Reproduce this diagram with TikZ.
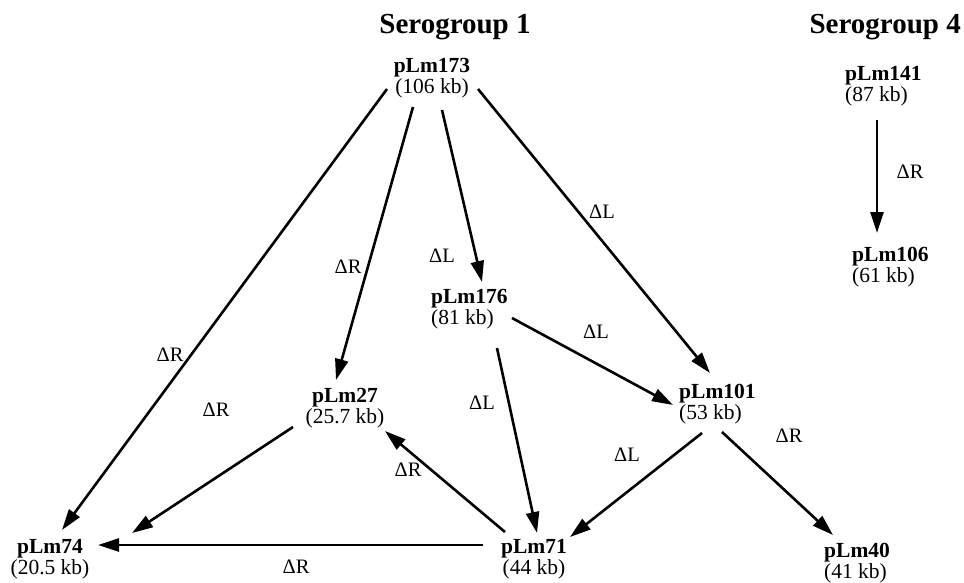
\documentclass[tikz,border=0pt]{standalone}
\usepackage{fontspec}
\setmainfont{Liberation Serif}
\usetikzlibrary{arrows.meta,calc}
\begin{document}
\begin{tikzpicture}[x=1pt,y=-1pt,
  plasmid/.style={inner sep=0pt,align=center,font=\fontsize{21.5}{21}\selectfont},
  plasmidL/.style={inner sep=0pt,align=left,anchor=west,font=\fontsize{21.5}{21}\selectfont},
  title/.style={inner sep=0pt,anchor=base,font=\fontsize{29}{30}\selectfont\bfseries},
  lab/.style={inner sep=0pt,font=\fontsize{20.5}{22}\selectfont},
  conn/.style={line width=2.6pt,-{Triangle[length=21pt,width=13pt]}}]
\useasboundingbox (0,0) rectangle (964,582);
% titles
\node[title] (t1) at (455,33) {Serogroup 1};
\node[title,anchor=base east] (t4) at (961,33) {Serogroup 4};
% plasmids
\node[plasmid] (n173) at (432,78) {\textbf{pLm173}\\(106 kb)};
\node[plasmidL] (n176) at (431,309) {\textbf{pLm176}\\(81 kb)};
\node[plasmid] (n27) at (345,408) {\textbf{pLm27}\\(25.7 kb)};
\node[plasmidL] (n101) at (679,404) {\textbf{pLm101}\\(53 kb)};
\node[plasmid] (n74) at (50,559) {\textbf{pLm74}\\(20.5 kb)};
\node[plasmid] (n71) at (534,559) {\textbf{pLm71}\\(44 kb)};
\node[plasmidL] (n40) at (824,563) {\textbf{pLm40}\\(41 kb)};
\node[plasmidL] (n141) at (845,86) {\textbf{pLm141}\\(87 kb)};
\node[plasmidL] (n106) at (852,267) {\textbf{pLm106}\\(61 kb)};
% connectors
\draw[conn] ($(n173)+(-45,11)$) -- ($(n74)+(12,-29)$);
\draw[conn] ($(n173)+(-19,29)$) -- ($(n27)+(-9,-28)$);
\draw[conn] ($(n173)+(10,32)$) -- ($(n176.west)+(51,-27)$);
\draw[conn] ($(n173)+(46,11)$) -- ($(n101.west)+(31,-31)$);
\draw[conn] ($(n176.west)+(81,9)$) -- ($(n101.west)+(-6,1)$);
\draw[conn] ($(n176.west)+(66,39)$) -- ($(n71)+(3,-26)$);
\draw[conn] ($(n27)+(-52,19)$) -- ($(n74)+(82,-26)$);
\draw[conn] ($(n71)+(-29,-27)$) -- ($(n27)+(40,23)$);
\draw[conn] ($(n71)+(-51,-14)$) -- ($(n74)+(48,-14)$);
\draw[conn] ($(n101.west)+(23,29)$) -- ($(n71)+(36,-22)$);
\draw[conn] ($(n101.west)+(43,28)$) -- ($(n40.west)+(9,-28)$);
\draw[conn] ($(n141.west)+(32,34)$) -- ($(n106.west)+(25,-34)$);
% labels
\node[lab] (l1) at (170,355) {ΔR};
\node[lab] (l2) at (348,267) {ΔR};
\node[lab] (l3) at (442,256) {ΔL};
\node[lab] (l4) at (602,212) {ΔL};
\node[lab] (l5) at (596,332) {ΔL};
\node[lab] (l6) at (482,403) {ΔL};
\node[lab] (l7) at (216,410) {ΔR};
\node[lab] (l8) at (408,470) {ΔR};
\node[lab] (l9) at (296,567) {ΔR};
\node[lab] (l10) at (627,455) {ΔL};
\node[lab] (l11) at (789,436) {ΔR};
\node[lab] (l12) at (910,172) {ΔR};
\end{tikzpicture}
\end{document}
